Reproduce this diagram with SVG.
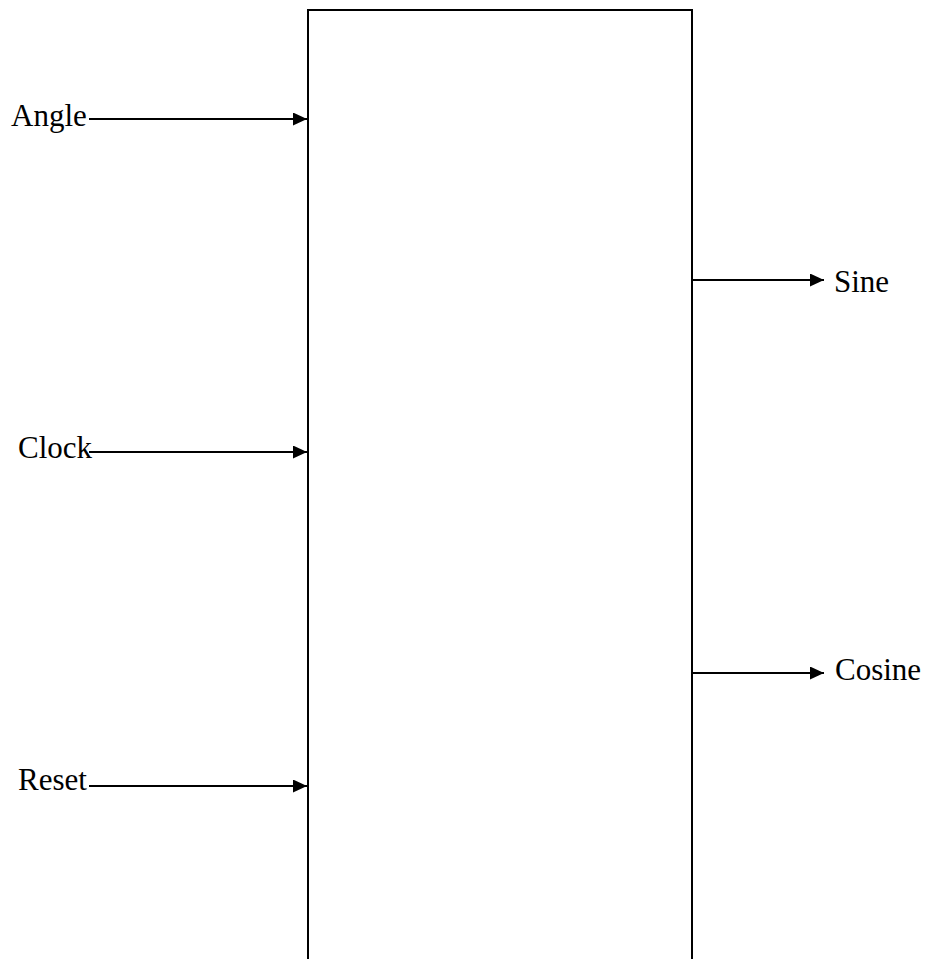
<svg xmlns="http://www.w3.org/2000/svg" width="925" height="959" viewBox="0 0 925 959">
  <defs>
    <marker id="arrow" viewBox="0 0 14 13" refX="14" refY="6.5" markerWidth="14" markerHeight="13" markerUnits="userSpaceOnUse" orient="auto">
      <path d="M0,0 L14,6.5 L0,13 Z" fill="#000"/>
    </marker>
  </defs>
  <style>
    .lbl { font-family: "Liberation Serif", "Times New Roman", serif; font-size: 31px; fill: #000; }
    .wire { stroke: #000; stroke-width: 2; fill: none; marker-end: url(#arrow); }
    .box { stroke: #000; stroke-width: 2; fill: none; }
  </style>
  <rect width="925" height="959" fill="#fff"/>

  <!-- block: open at the bottom edge -->
  <g id="block">
    <path class="box" d="M308,970 L308,10 L692,10 L692,970"/>
  </g>

  <g id="connectors">
    <line class="wire" x1="89" y1="119" x2="307" y2="119"/>
    <line class="wire" x1="89" y1="452" x2="307" y2="452"/>
    <line class="wire" x1="89" y1="786" x2="307" y2="786"/>
    <line class="wire" x1="692" y1="280" x2="824" y2="280"/>
    <line class="wire" x1="692" y1="673" x2="824" y2="673"/>
  </g>

  <g id="in-angle"><text class="lbl" x="11" y="126">Angle</text></g>
  <g id="in-clock"><text class="lbl" x="18" y="458">Clock</text></g>
  <g id="in-reset"><text class="lbl" x="18" y="790">Reset</text></g>
  <g id="out-sine"><text class="lbl" x="834" y="292">Sine</text></g>
  <g id="out-cosine"><text class="lbl" x="835" y="680">Cosine</text></g>
</svg>
